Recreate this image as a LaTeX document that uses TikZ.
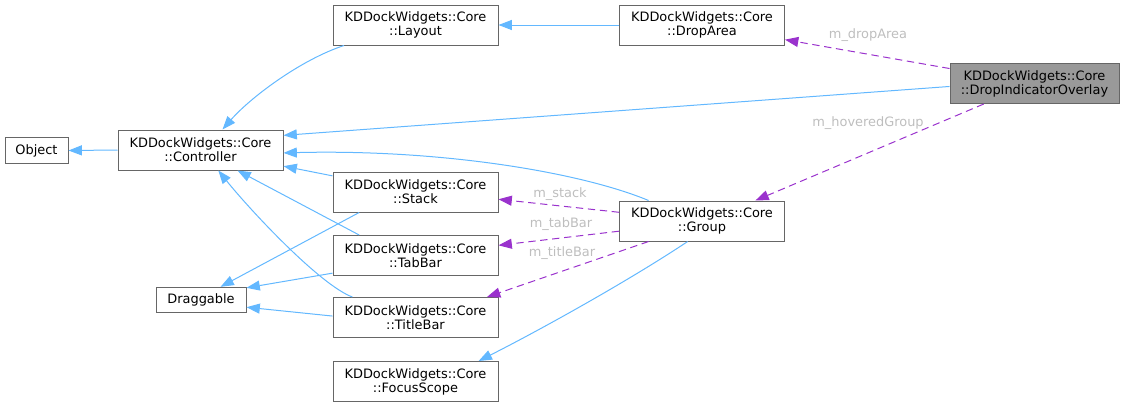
\documentclass[tikz,border=0pt]{standalone}
\usepackage{fontspec}
\setmainfont{DejaVu Sans}
\usepackage{tikz}
\usetikzlibrary{arrows.meta,positioning,calc}
\usepackage{xcolor}
\definecolor{edgeblue}{HTML}{63B8FF}
\definecolor{usepurple}{HTML}{9A32CD}
\definecolor{boxline}{HTML}{666666}
\definecolor{boxfill}{HTML}{999999}
\definecolor{lblgray}{HTML}{BEBEBE}
\newcommand{\dxfont}{\fontsize{9.7pt}{10.6pt}\selectfont}
\tikzset{
  cbox/.style={rectangle, draw=boxline, fill=white, line width=0.75pt,
               minimum width=123.75pt, minimum height=30pt, inner sep=1pt,
               align=center, font=\dxfont},
  sbox/.style={cbox, minimum height=19pt},
  cboxhl/.style={cbox, fill=boxfill, minimum width=126.75pt},
  inh/.style={-{Triangle[length=10pt,width=7.5pt]}, line width=0.75pt, color=edgeblue},
  usage/.style={-{Triangle[length=10pt,width=7.5pt]}, line width=0.75pt, color=usepurple,
                dash pattern=on 5.5pt off 3.5pt},
  lbl/.style={font=\dxfont, text=lblgray, inner sep=0pt},
}

\begin{document}
\begin{tikzpicture}[x=0.75pt,y=-0.75pt]
    \useasboundingbox (0,0) rectangle (1125,408);
    \node[sbox, minimum width=47.25pt] (obj) at (36.5,150.5) {Object};
    \node[cbox] (ctrl) at (200.5,150) {KDDockWidgets::Core\\::Controller};
    \node[cbox] (layout) at (415.5,25) {KDDockWidgets::Core\\::Layout};
    \node[cbox] (droparea) at (702,25) {KDDockWidgets::Core\\::DropArea};
    \node[cboxhl] (dio) at (1034.5,83.5) {KDDockWidgets::Core\\::DropIndicatorOverlay};
    \node[cbox] (stack) at (415.5,192) {KDDockWidgets::Core\\::Stack};
    \node[cbox] (tabbar) at (415.5,255.5) {KDDockWidgets::Core\\::TabBar};
    \node[cbox] (titlebar) at (415.5,317.5) {KDDockWidgets::Core\\::TitleBar};
    \node[cbox] (focus) at (415.5,381.5) {KDDockWidgets::Core\\::FocusScope};
    \node[sbox, minimum width=67.5pt] (drag) at (201,300) {Draggable};
    \node[cbox] (group) at (702,221) {KDDockWidgets::Core\\::Group};

    \draw[inh] (ctrl.west) -- (obj.east);
    \draw[inh] (layout.196) .. controls (300,60) and (250,98) .. (ctrl.43);
    \draw[inh] (droparea.west) -- (layout.east);
    \draw[inh] (dio.182) -- (ctrl.10);
    \draw[inh] (group.159) .. controls (580,172) and (440,149) .. (ctrl.358);
    \draw[inh] (stack.169) -- (ctrl.349);
    \draw[inh] (tabbar.160) -- (ctrl.331);
    \draw[inh] (titlebar.162) .. controls (320,285) and (250,210) .. (ctrl.311);
    \draw[inh] (stack.200) -- (drag.34);
    \draw[inh] (tabbar.192) -- (drag.15);
    \draw[inh] (titlebar.179) -- (drag.351);
    \draw[inh] (group.235) .. controls (630,280) and (540,330) .. (focus.18);

    \draw[usage] (dio.170) -- (droparea.350);
    \draw[usage] (dio.202) -- (group.21);
    \draw[usage] (group.174) -- (stack.355);
    \draw[usage] (group.187) -- (tabbar.7);
    \draw[usage] (group.201) -- (titlebar.16);
    \node[lbl] (l1) at (868,35) {m\_dropArea};
    \node[lbl] (l2) at (868,123) {m\_hoveredGroup};
    \node[lbl] (l3) at (560,194) {m\_stack};
    \node[lbl] (l4) at (561,224) {m\_tabBar};
    \node[lbl] (l5) at (562,253) {m\_titleBar};
  \end{tikzpicture}
\end{document}
